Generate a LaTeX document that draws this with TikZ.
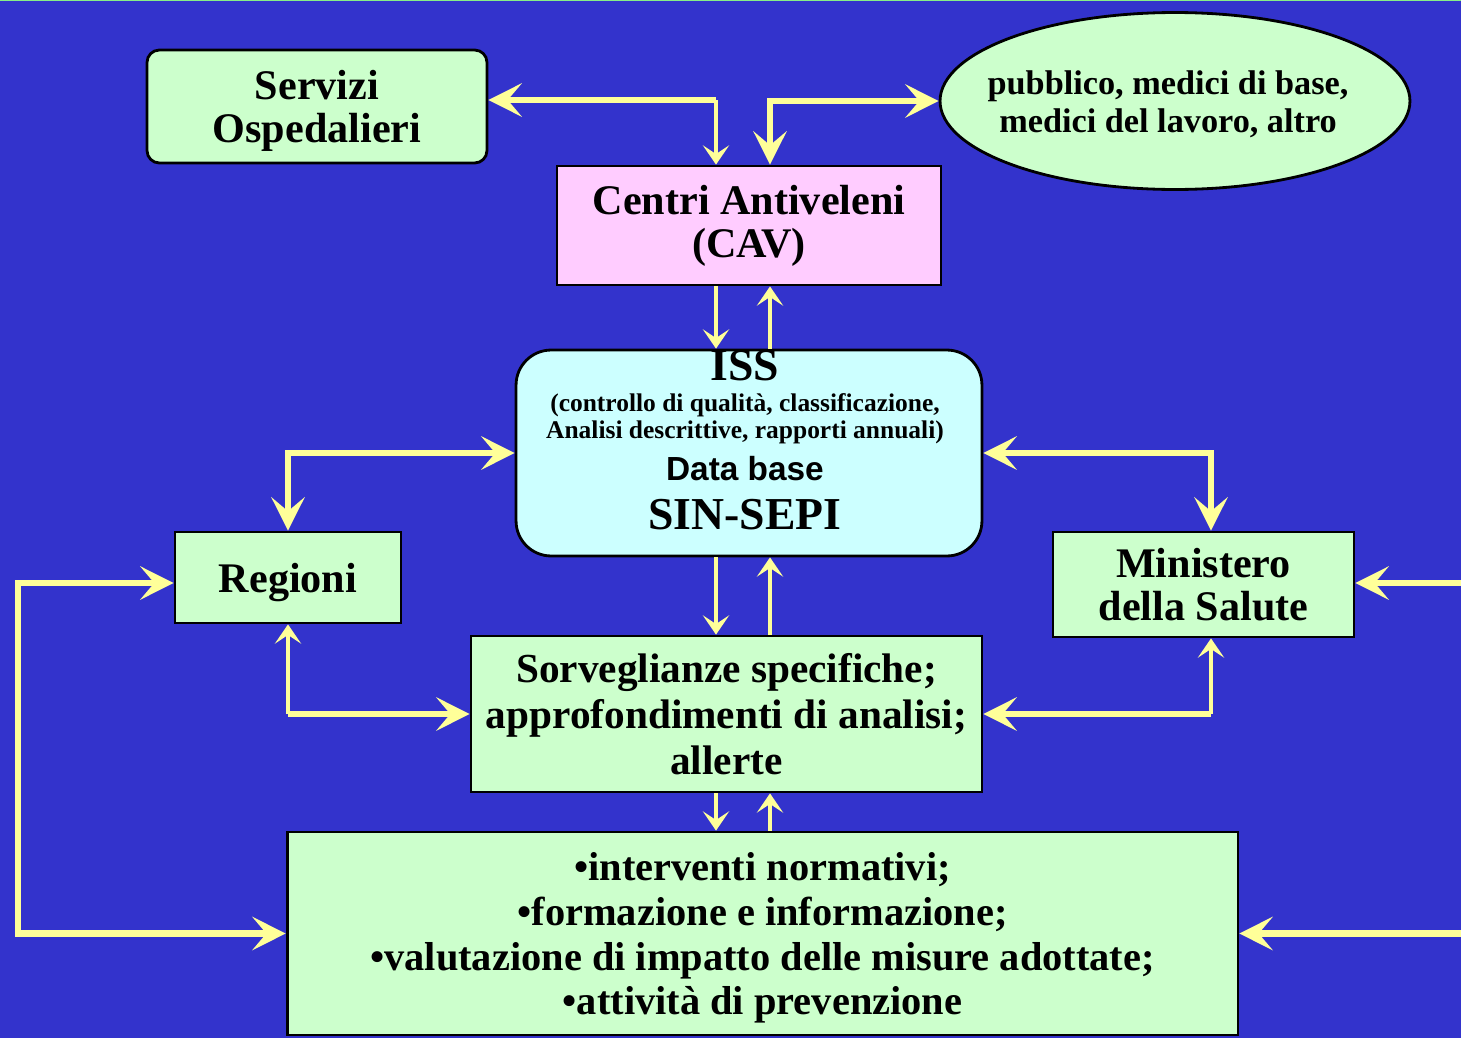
\documentclass[tikz,border=0pt]{standalone}
\usepackage{fontspec}
\setmainfont{Liberation Serif}
\setsansfont{Liberation Sans}
\usepackage{tikz}
\usetikzlibrary{arrows.meta,shapes.geometric}
\definecolor{bgblue}{HTML}{3333CC}
\definecolor{arrowyel}{HTML}{FFFF99}
\definecolor{boxgreen}{HTML}{CCFFCC}
\definecolor{boxpink}{HTML}{FFCCFF}
\definecolor{boxcyan}{HTML}{CCFFFF}
\definecolor{topgreen}{HTML}{88EE88}
\newcommand{\fsz}[2]{\fontsize{#1}{#2}\selectfont}
\tikzstyle{bx} = [rectangle, draw, fill=boxgreen, line width=1.6pt,
    align=center, inner sep=0pt, font=\bfseries\fsz{24}{24.5}]
\tikzstyle{el} = [ellipse, draw, fill=boxgreen, line width=1.6pt, inner sep=0pt]
\tikzstyle{lnk} = [draw=arrowyel, line width=3.6pt]
\tikzstyle{tlnk} = [draw=arrowyel, line width=2pt]
\tikzset{bigtip/.tip={Stealth[length=19pt,width=19pt,inset=8pt]},
         smtip/.tip={Stealth[length=11pt,width=15pt,inset=5pt]}}

\begin{document}
\begin{tikzpicture}[x=0.02cm,y=-0.02cm]
  \fill[bgblue] (0,0) rectangle (1461,1038);
  \useasboundingbox (0,0) rectangle (1461,1038);
  \draw[draw=topgreen,line width=1pt] (0,0) -- (1461,0);

  \node[bx,rounded corners=7pt,minimum width=6.8cm,minimum height=2.26cm,text depth=0pt] (serv) at (317,106.5) {Servizi\\Ospedalieri};
  \node[el,minimum width=9.4cm,minimum height=3.54cm] (pub) at (1175,101) {};
  \node[align=center,font=\bfseries\fsz{19.5}{21.6}] (pubtxt) at (1168,104) {pubblico, medici di base,\\medici del lavoro, altro};
  \node[bx,fill=boxpink,minimum width=7.68cm,minimum height=2.38cm] (cav) at (749,225.5) {Centri Antiveleni\\(CAV)};
  \node[bx,fill=boxcyan,rounded corners=20pt,minimum width=9.32cm,minimum height=4.12cm] (iss) at (749,453) {};
  \node[align=center,font=\bfseries\fsz{14.5}{15.4}] (isstxt) at (745,440) {{\fsz{26}{26}ISS}\\[2pt](controllo di qualità, classificazione,\\Analisi descrittive, rapporti annuali)\\[6pt]{\sffamily\fsz{19}{19}Data base}\\[9.5pt]{\fsz{26}{26}SIN-SEPI}};
  \node[bx,minimum width=4.52cm,minimum height=1.82cm,text depth=0pt] (reg) at (288,577.5) {Regioni};
  \node[bx,minimum width=6.02cm,minimum height=2.1cm] (min) at (1203.5,584.5) {Ministero\\della Salute};
  \node[bx,minimum width=10.22cm,minimum height=3.12cm,font=\bfseries\fsz{23.5}{26}] (sorv) at (726.5,714) {Sorveglianze specifiche;\\approfondimenti di analisi;\\allerte};
  \node[bx,minimum width=19.02cm,minimum height=4.06cm,font=\bfseries\fsz{23}{25.6},text depth=0pt] (interv) at (762.5,933.5) {•interventi normativi;\\•formazione e informazione;\\•valutazione di impatto delle misure adottate;\\•attività di prevenzione};

  % top connectors
  \coordinate (ca) at (716,100);
  \coordinate (cb) at (770,100);
  \draw[lnk,-bigtip] (ca) -- (serv.east |- ca);
  \draw[tlnk,-smtip] (ca) -- (cav.north -| ca);
  \draw[lnk,bigtip-bigtip] (cav.north -| cb) |- (pub.west);

  % the vertical pairs
  \draw[tlnk,-smtip] (cav.south -| ca) -- (iss.north -| ca);
  \draw[tlnk,-smtip] (iss.north -| cb) -- (cav.south -| cb);
  \draw[tlnk,-smtip] (iss.south -| ca) -- (sorv.north -| ca);
  \draw[tlnk,-smtip] (sorv.north -| cb) -- (iss.south -| cb);
  \draw[tlnk,-smtip] (sorv.south -| ca) -- (interv.north -| ca);
  \draw[tlnk,-smtip] (interv.north -| cb) -- (sorv.south -| cb);

  % sides
  \coordinate (cm) at (1211,0);
  \draw[lnk,bigtip-bigtip] (iss.west) -| (reg.north);
  \draw[lnk,bigtip-bigtip] (iss.east) -| (cm |- min.north);
  \coordinate (ci) at (reg.south |- sorv.west);
  \draw[lnk,-bigtip] (ci) -- (sorv.west);
  \draw[tlnk,-smtip] (ci) -- (reg.south);
  \coordinate (cj) at (cm |- sorv.east);
  \draw[lnk,-bigtip] (cj) -- (sorv.east);
  \draw[tlnk,-smtip] (cj) -- (cm |- min.south);

  \coordinate (lft) at (18,583);
  \coordinate (rgt) at (1461,583);
  \draw[lnk,bigtip-bigtip] (reg.west |- lft) -- (lft) -- (interv.west -| lft) -- (interv.west);
  \draw[lnk,-bigtip] (rgt) -- (min.east |- rgt);
  \draw[lnk,-bigtip] (interv.east -| rgt) -- (interv.east);
\end{tikzpicture}
\end{document}
